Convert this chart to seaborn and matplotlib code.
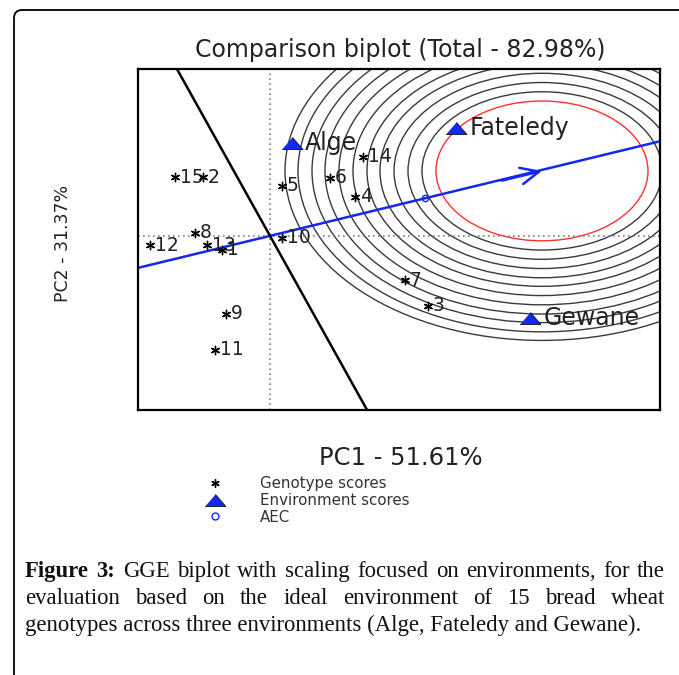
import numpy as np
import pandas as pd
import matplotlib
matplotlib.use("Agg")
import matplotlib.pyplot as plt
import seaborn as sns
from matplotlib.patches import Circle, FancyBboxPatch
from matplotlib.lines import Line2D

# Genotype scores (PC1, PC2)
geno_labels = ["1", "2", "3", "4", "5", "6", "7", "8", "9", "10", "11", "12", "13", "14", "15"]
geno_pc1 = [-0.48, -0.67, 1.58, 0.85, 0.12, 0.60, 1.35, -0.75, -0.44, 0.12, -0.55, -1.20, -0.63, 0.93, -0.95]
geno_pc2 = [-0.21, 0.89, -1.06, 0.59, 0.76, 0.88, -0.67, 0.05, -1.18, -0.03, -1.73, -0.14, -0.14, 1.20, 0.89]

# Environment scores
env_labels = ["Alge", "Fateledy", "Gewane"]
env_pc1 = [0.22, 1.86, 2.60]
env_pc2 = [1.41, 1.64, -1.24]

# average environment coordinate and ideal environment
aec_point = [1.55, 0.57]
ideal_point = [2.72, 0.985]
red_radius = 1.06
ring_radii = [1.20, 1.34, 1.48, 1.62, 1.75, 1.89, 2.03, 2.17, 2.30, 2.44, 2.57]

title = "Comparison biplot (Total - 82.98%)"
xlab = "PC1 - 51.61%"
ylab = "PC2 - 31.37%"
legend_labels = ["Genotype scores", "Environment scores", "AEC"]
caption = [
    "Figure 3: GGE biplot with scaling focused on environments, for the",
    "evaluation based on the ideal environment of 15 bread wheat",
    "genotypes across three environments (Alge, Fateledy and Gewane).",
]

BLUE = "#1428f0"
TRI = [(-1, -0.58), (1, -0.58), (0, 0.58)]
STAR = (6, 2, 0)

sns.set_theme(style="white")
plt.rcParams["font.family"] = ["DejaVu Sans"]

W, H = 679, 675
fig = plt.figure(figsize=(W / 100, H / 100), dpi=100)
ax = fig.add_axes([138 / W, 1 - 410 / H, (660 - 138) / W, (410 - 69) / H])
ax.set_xlim(-1.32, 3.90)
ax.set_ylim(-2.64, 2.53)

# concentric rings round the ideal environment
for r in ring_radii:
    ax.add_patch(Circle(ideal_point, r, fill=False, ec="#3a3a3a", lw=1.0))
ax.add_patch(Circle(ideal_point, red_radius, fill=False, ec="#ff3030", lw=1.0))

ax.axhline(0, color="#808080", lw=1.2, ls=(0, (1, 2)))
ax.axvline(0, color="#808080", lw=1.2, ls=(0, (1, 2)))

# AEC abscissa and its perpendicular through the origin
ax.axline((0, 0), aec_point, color=BLUE, lw=1.8)
ax.axline((0, 0), slope=-aec_point[0] / aec_point[1], color="black", lw=1.8)
ax.annotate("", xy=ideal_point,
            xytext=(ideal_point[0] - 0.4, ideal_point[1] - 0.4 * aec_point[1] / aec_point[0]),
            arrowprops=dict(arrowstyle="->,head_length=1.1,head_width=0.5", color=BLUE, lw=1.8,
                            shrinkA=0, shrinkB=0))
ax.plot(aec_point[0], aec_point[1], "o", mfc="none", mec=BLUE, ms=4.5, mew=1)

df_g = pd.DataFrame({"PC1": geno_pc1, "PC2": geno_pc2, "lab": geno_labels})
sns.scatterplot(data=df_g, x="PC1", y="PC2", marker=STAR, color="black", edgecolor="black",
                s=36, linewidth=1.0, ax=ax, legend=False, zorder=4)
for _, row in df_g.iterrows():
    ax.annotate(row["lab"], (row["PC1"], row["PC2"]), xytext=(3.5, 0), textcoords="offset points",
                ha="left", va="center", fontsize=13.5, color="#222222")

df_e = pd.DataFrame({"PC1": env_pc1, "PC2": env_pc2, "lab": env_labels})
sns.scatterplot(data=df_e, x="PC1", y="PC2", marker=TRI, color=BLUE, edgecolor="#111111",
                s=15 ** 2, linewidth=0.6, ax=ax, legend=False, zorder=5)
for _, row in df_e.iterrows():
    ax.annotate(row["lab"], (row["PC1"], row["PC2"]), xytext=(9.5, 0), textcoords="offset points",
                ha="left", va="center", fontsize=17, color="#222222")

ax.set_xticks([])
ax.set_yticks([])
ax.set_xlabel("")
ax.set_ylabel("")
for sp in ax.spines.values():
    sp.set_color("black")
    sp.set_linewidth(1.6)

fig.text(400 / W, 1 - 50 / H, title, ha="center", va="center", fontsize=17, color="#222222")
fig.text(401 / W, 1 - 458 / H, xlab, ha="center", va="center", fontsize=17.5, color="#222222")
fig.text(63 / W, 1 - 243 / H, ylab, ha="center", va="center", rotation=90, fontsize=12.5,
         color="#222222")

handles = [
    Line2D([], [], ls="", marker=STAR, color="black", ms=6, mew=1),
    Line2D([], [], ls="", marker=TRI, mfc=BLUE, mec="#111111", ms=15, mew=0.6),
    Line2D([], [], ls="", marker="o", mfc="none", mec=BLUE, ms=5, mew=1),
]
fig.legend(handles, legend_labels, loc="upper left", bbox_to_anchor=(207 / W, 1 - 476 / H),
           frameon=False, fontsize=10.8, handlelength=1.0, handletextpad=2.55, labelspacing=0.12,
           borderpad=0, borderaxespad=0, labelcolor="#333333")

# page border (top and left edges with a rounded corner)
fig.add_artist(FancyBboxPatch((14 / W, -0.1), 2, 1 - 10 / H + 0.1,
                              boxstyle="round,pad=0,rounding_size=0.012",
                              transform=fig.transFigure, fill=False, ec="black", lw=1.3))

# caption, first two lines justified
renderer = fig.canvas.get_renderer()
cap_size = 16.4
x_left, x_right = 25 / W, 665 / W
baselines = [577, 604, 631]
for i, line in enumerate(caption):
    y = 1 - baselines[i] / H
    if i == 2:
        fig.text(x_left, y, line, ha="left", va="baseline", fontsize=cap_size,
                 family="Liberation Serif", color="#111111")
        continue
    words = line.split(" ")
    texts = []
    for j, w in enumerate(words):
        bold = (i == 0 and j < 2)
        t = fig.text(0, y, w, ha="left", va="baseline", fontsize=cap_size,
                     family="Liberation Serif", weight="bold" if bold else "normal",
                     color="#111111")
        texts.append(t)
    widths = [t.get_window_extent(renderer).width / W for t in texts]
    gap = (x_right - x_left - sum(widths)) / (len(words) - 1)
    x = x_left
    for t, wd in zip(texts, widths):
        t.set_x(x)
        x += wd + gap

fig.savefig("out.png", dpi=100)
